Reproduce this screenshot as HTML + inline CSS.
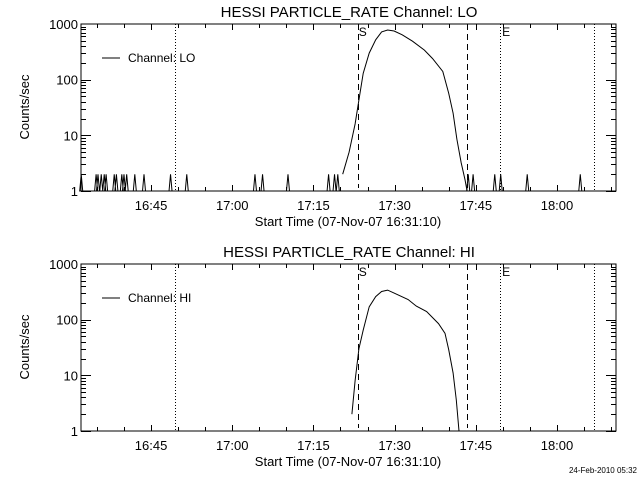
<!DOCTYPE html>
<html><head><meta charset="utf-8"><style>
html,body{margin:0;padding:0;background:#fff;}
svg{display:block;font-family:"Liberation Sans","DejaVu Sans",sans-serif;}
</style></head><body>
<svg id="c" width="640" height="480" xmlns="http://www.w3.org/2000/svg"></svg>
<script>
// ---- data (times in minutes after 16:00) ----
const loTimes=[80.4,81.6,82.7,83.4,84.2,85.3,86.5,87.6,88.7,89.9,91.4,93.3,95.5,97.0,98.9,100.0,100.8,101.5,102.3,103.0,103.4];
const loValues=[2,5,16,43,130,300,520,720,780,750,640,490,340,240,140,57,25,8.5,3.2,1.6,1];
const loSpikes=[32.1,34.85,35.2,35.8,36.35,36.7,38.2,38.6,39.6,40.0,40.5,42.0,43.7,48.6,51.6,64.2,65.6,70.3,77.8,78.9,79.5,103.6,104.5,108.5,109.6,114.5,124.3];
const hiTimes=[82.1,82.7,83.4,84.2,85.3,86.5,87.6,88.7,89.9,92.5,94.0,95.9,98.1,99.3,100.0,100.8,101.4,101.9];
const hiValues=[2,8,30,65,170,260,320,340,300,230,175,140,85,57,29,11,3.6,1];
const xTickLabels=["16:45","17:00","17:15","17:30","17:45","18:00"];
const xTickMinutes=[45,60,75,90,105,120];
const yTickLabels=["1","10","100","1000"];
const yTickValues=[1,10,100,1000];
const dottedLines=[49.5,109.5,126.8];
const dashedLines=[83.2,103.4];

const NS="http://www.w3.org/2000/svg";
const svg=document.getElementById('c');
function mk(tag,attrs,parent){const e=document.createElementNS(NS,tag);for(const k in attrs)e.setAttribute(k,attrs[k]);(parent||svg).appendChild(e);return e;}
const L=81,R=616,XMIN=32.06,XMAX=130.9;
function xs(m){return L+(m-XMIN)*(R-L)/(XMAX-XMIN);}

function panel(off,name,chan,times,vals,spikes){
  const T=24+off,B=191+off;
  const g=mk('g',{});
  
  
  function ys(v){return B-Math.log10(v)*(B-T)/3;}
  const t=mk('text',{x:349,y:17+off,'text-anchor':'middle','font-size':15},g);
  t.textContent='HESSI PARTICLE_RATE Channel: '+chan;
  
  
  const fr=mk('rect',{x:L,y:T,width:R-L,height:B-T,fill:'none',stroke:'#000','stroke-width':1},g);
  
  
  // y ticks
  for(let d=0;d<3;d++){for(let k=1;k<10;k++){const v=Math.pow(10,d)*k;const y=Math.round(ys(v))+0.5;const len=k==1?10:5;
    mk('line',{x1:L,y1:y,x2:L+len,y2:y,stroke:'#000'},g);mk('line',{x1:R,y1:y,x2:R-len,y2:y,stroke:'#000'},g);}}
  yTickValues.forEach((v,i)=>{const tx=mk('text',{x:78,y:ys(v)+5,'text-anchor':'end','font-size':13},g);tx.textContent=yTickLabels[i];
    
    });
  const yt=mk('text',{x:0,y:0,'text-anchor':'middle','font-size':13,transform:'translate(29,'+(107+off)+') rotate(-90)'},g);
  yt.textContent='Counts/sec';
  
  
  // x ticks
  for(let m=35;m<=130;m+=5){const x=Math.round(xs(m))+0.5;const len=(m%15==0)?6:4;
    mk('line',{x1:x,y1:B,x2:x,y2:B-len,stroke:'#000'},g);mk('line',{x1:x,y1:T,x2:x,y2:T+len,stroke:'#000'},g);}
  xTickMinutes.forEach((m,i)=>{const tx=mk('text',{x:xs(m),y:B+19,'text-anchor':'middle','font-size':13},g);tx.textContent=xTickLabels[i];
    
    });
  const xt=mk('text',{x:348,y:B+35,'text-anchor':'middle','font-size':13},g);
  xt.textContent='Start Time (07-Nov-07 16:31:10)';
  
  
  // vertical markers
  dottedLines.forEach(m=>{const x=Math.round(xs(m))+0.5;const l=mk('line',{x1:x,y1:T,x2:x,y2:B,stroke:'#000','stroke-dasharray':'1,2'},g);
    
    });
  dashedLines.forEach(m=>{const x=Math.round(xs(m))+0.5;const l=mk('line',{x1:x,y1:T,x2:x,y2:B-3,stroke:'#000','stroke-dasharray':'6,4'},g);
    
    });
  const s=mk('text',{x:xs(dashedLines[0])+1,y:T+12,'font-size':12},g);s.textContent='S';
  
  
  const e=mk('text',{x:xs(dottedLines[1])+2,y:T+12,'font-size':12},g);e.textContent='E';
  
  
  // legend
  mk('line',{x1:102,y1:58+off,x2:120,y2:58+off,stroke:'#000'},g);
  const lg=mk('text',{x:128,y:62+off,'font-size':12},g);lg.textContent='Channel: '+chan;
  
  
  // spikes
  if(spikes){let d='M'+L+' '+B;spikes.forEach(m=>{const x=xs(m);d+=' L'+(x-1.5)+' '+B+' L'+x+' '+ys(2)+' L'+(x+1.5)+' '+B;});d+=' L'+R+' '+B;
    const p=mk('path',{d:d,fill:'none',stroke:'#000','stroke-width':1},g);
    
    }
  let d='';times.forEach((m,i)=>{d+=(i?' L':'M')+xs(m).toFixed(1)+' '+ys(vals[i]).toFixed(1);});
  const p=mk('path',{d:d,fill:'none',stroke:'#000','stroke-width':1},g);
  
  
}
panel(0,'lo','LO',loTimes,loValues,loSpikes);
panel(240,'hi','HI',hiTimes,hiValues,null);
const f=mk('text',{x:637,y:473,'text-anchor':'end','font-size':8});
f.textContent='24-Feb-2010 05:32';


</script>
</body></html>
